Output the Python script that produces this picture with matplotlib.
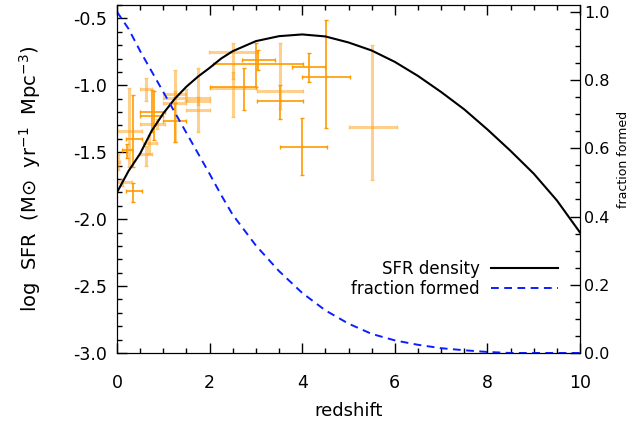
import matplotlib
matplotlib.use('Agg')
import matplotlib.pyplot as plt
import numpy as np
from matplotlib.ticker import MultipleLocator, FormatStrFormatter

# SFR density curve (log, left axis)
z_curve = [0.0, 0.25, 0.5, 0.75, 1.0, 1.25, 1.5, 1.75, 2.0, 2.25, 2.5, 3.0, 3.5,
           4.0, 4.5, 5.0, 5.5, 6.0, 6.5, 7.0, 7.5, 8.0, 8.5, 9.0, 9.5, 10.0]
sfr_curve = [-1.80, -1.64, -1.51, -1.34, -1.21, -1.10, -1.01, -0.935, -0.87, -0.80,
             -0.745, -0.67, -0.633, -0.62, -0.635, -0.68, -0.74, -0.825, -0.93,
             -1.05, -1.18, -1.33, -1.49, -1.66, -1.86, -2.10]
# fraction of stars formed (right axis)
frac_curve = [1.0, 0.95, 0.885, 0.825, 0.765, 0.705, 0.645, 0.585, 0.525, 0.463,
              0.405, 0.315, 0.24, 0.176, 0.125, 0.086, 0.056, 0.037, 0.024, 0.014,
              0.008, 0.003, 0.0, 0.0, 0.0, 0.0]

# measurements, strong colour
z_dark = [0.35, 0.35, 0.75, 0.80, 1.25, 2.75, 3.00, 3.05, 3.51, 4.14, 4.51, 4.00, 0.21]
v_dark = [-1.40, -1.79, -1.20, -1.23, -1.27, -1.01, -0.84, -0.81, -1.12, -0.865, -0.935, -1.458, -1.48]
zlo_dark = [0.20, 0.20, 0.50, 0.50, 1.00, 2.00, 2.08, 2.69, 3.02, 3.77, 3.99, 3.51, 0.10]
zhi_dark = [0.53, 0.53, 1.04, 1.00, 1.50, 3.00, 4.02, 3.41, 4.02, 4.49, 5.03, 4.53, 0.32]
vlo_dark = [-1.61, -1.87, -1.346, -1.408, -1.42, -1.184, -1.01, -0.885, -1.25, -0.972, -1.321, -1.67, -1.54]
vhi_dark = [-1.07, -1.73, -1.035, -1.045, -1.13, -0.872, -0.685, -0.735, -1.00, -0.760, -0.511, -1.246, -1.44]

# measurements, faint colour
z_light = [0.63, 0.25, 0.03, 0.10, 0.63, 0.70, 0.86, 1.25, 1.25, 1.76, 1.50, 1.76, 2.50, 2.50, 3.51, 5.50]
v_light = [-1.03, -1.34, -1.57, -1.72, -1.51, -1.43, -1.29, -1.134, -1.064, -1.184, -1.097, -1.12, -0.748, -1.022, -1.04, -1.313]
zlo_light = [0.50, 0.00, 0.00, 0.00, 0.50, 0.57, 0.50, 0.99, 0.99, 1.50, 1.00, 1.50, 1.99, 2.00, 3.02, 5.00]
zhi_light = [0.75, 0.53, 0.06, 0.32, 0.75, 0.86, 1.04, 1.49, 1.49, 2.00, 2.00, 2.00, 3.05, 3.00, 4.02, 6.04]
vlo_light = [-1.12, -1.61, -1.63, -1.75, -1.60, -1.51, -1.33, -1.42, -1.09, -1.35, -1.12, -1.15, -0.95, -1.234, -1.18, -1.707]
vhi_light = [-0.945, -1.02, -1.51, -1.70, -1.45, -1.37, -1.25, -0.885, -1.04, -0.874, -1.03, -1.09, -0.685, -0.90, -0.685, -0.698]


def main():
    plt.rcParams['font.family'] = ['DejaVu Sans']
    plt.rcParams['font.size'] = 12
    plt.rcParams['mathtext.fontset'] = 'dejavusans'

    fig = plt.figure(figsize=(6.31, 4.26), dpi=100)
    ax = fig.add_axes([0.1854, 0.1714, 0.7338, 0.8169])
    ax2 = ax.twinx()

    zl = np.array(z_light); vl = np.array(v_light)
    ax.errorbar(zl, vl, xerr=[zl - np.array(zlo_light), np.array(zhi_light) - zl],
                yerr=[vl - np.array(vlo_light), np.array(vhi_light) - vl],
                fmt='none', ecolor='#ffa31a', alpha=0.5, elinewidth=2.2, capsize=1.2, zorder=2)
    zd = np.array(z_dark); vd = np.array(v_dark)
    ax.errorbar(zd, vd, xerr=[zd - np.array(zlo_dark), np.array(zhi_dark) - zd],
                yerr=[vd - np.array(vlo_dark), np.array(vhi_dark) - vd],
                fmt='none', ecolor='#ff9a00', elinewidth=1.2, capsize=1.2, zorder=3)

    l1, = ax.plot(z_curve, sfr_curve, color='black', lw=1.5, zorder=4, label='SFR density')
    l2, = ax2.plot(z_curve, frac_curve, color='#0a1eff', lw=1.4, dashes=(4, 2.8),
                   label='fraction formed')

    ax.set_xlim(0, 10)
    ax.set_ylim(-3.0, -0.4)
    ax2.set_ylim(0, 1.02)

    ax.xaxis.set_major_locator(MultipleLocator(2))
    ax.xaxis.set_minor_locator(MultipleLocator(0.5))
    ax.yaxis.set_major_locator(MultipleLocator(0.5))
    ax.yaxis.set_minor_locator(MultipleLocator(0.1))
    ax.yaxis.set_major_formatter(FormatStrFormatter('%.1f'))
    ax2.yaxis.set_major_locator(MultipleLocator(0.2))
    ax2.yaxis.set_minor_locator(MultipleLocator(0.05))
    ax2.yaxis.set_major_formatter(FormatStrFormatter('%.1f'))

    ax.tick_params(which='both', direction='in', top=True, right=False, width=1)
    ax.tick_params(which='major', length=7)
    ax.tick_params(which='minor', length=3.5)
    ax.tick_params(axis='x', which='major', pad=15, labelsize=12.5)
    ax.tick_params(axis='y', which='major', pad=7, labelsize=12.5)
    ax2.tick_params(which='both', direction='in', width=1, labelsize=11.5)
    ax2.tick_params(which='major', length=7, pad=3)
    ax2.tick_params(which='minor', length=3.5)

    ax.set_xlabel('redshift', fontsize=13, labelpad=7)
    ax.set_ylabel('log  SFR  (M\u2299  yr$^{-1}$  Mpc$^{-3}$)', fontsize=14)
    ax.yaxis.set_label_coords(-0.16, 0.5)
    ax2.set_ylabel('fraction formed', fontsize=9)
    ax2.yaxis.set_label_coords(1.079, 0.555)

    ax2.legend([l1, l2], ['SFR density', 'fraction formed'], loc='lower right',
               bbox_to_anchor=(0.97, 0.135), frameon=False, markerfirst=False,
               handlelength=4.0, handletextpad=0.7, labelspacing=0.1, borderpad=0)

    fig.savefig('out.png', dpi=100)


if __name__ == "__main__":
    main()
